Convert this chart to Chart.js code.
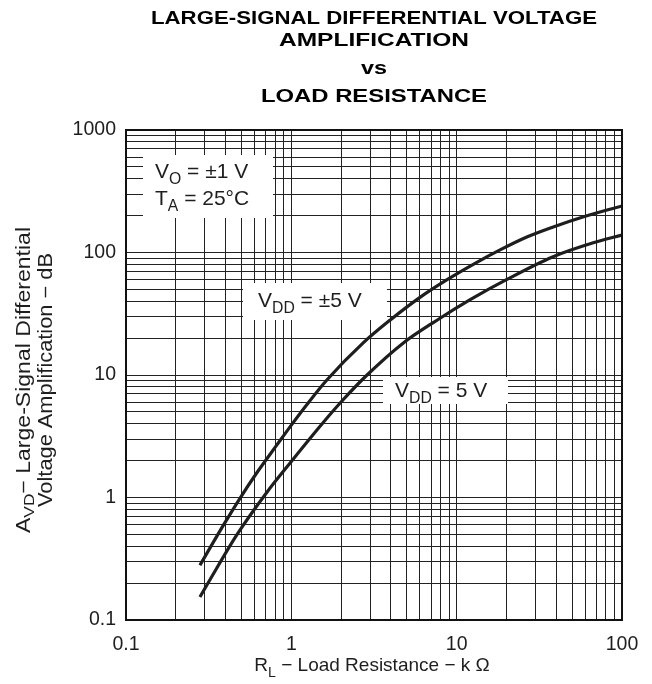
<!DOCTYPE html>
<html><head><meta charset="utf-8">
<script src="https://cdn.jsdelivr.net/npm/chart.js@4"></script>
<style>html,body{margin:0;padding:0;background:#fff}#wrap{width:652px;height:684px;position:relative}</style>
</head><body><div id="wrap"><canvas id="c"></canvas></div>
<script>
// ---- data ----
const rlDual    = [0.28, 0.39, 0.49, 0.62, 0.82, 1.0, 1.25, 1.64, 2.71, 3.95, 6.0, 8.75, 13, 18.3, 27, 38, 58, 100];
const avdDual   = [0.28, 0.6, 0.99, 1.6, 2.7, 3.9, 5.8, 9.1, 18.2, 28, 43, 60, 82, 105, 135, 161, 195, 240];
const rlSingle  = [0.28, 0.32, 0.47, 0.71, 1.0, 1.55, 2.05, 2.87, 4.74, 7.6, 12, 20, 38, 67, 100];
const avdSingle = [0.154, 0.21, 0.5, 1.1, 1.97, 4.06, 6.25, 10.0, 18.2, 28, 41, 60, 92, 120, 139];
const xDecades = [0.1, 1, 10, 100];
const yDecades = [0.1, 1, 10, 100, 1000];
const xTickLabels = ['0.1', '1', '10', '100'];
const yTickLabels = ['0.1', '1', '10', '100', '1000'];
const minorSteps = [1, 2, 3, 4, 5, 6, 7, 8, 9];

const FONT = '"Liberation Sans", Arial, Helvetica, sans-serif';
const INK = '#1e1e1e';

function gridValues(decades) {
  const out = [];
  for (let i = 0; i < decades.length; i++) {
    const d = decades[i];
    if (i === decades.length - 1) { out.push(d); break; }
    minorSteps.forEach(m => out.push(m * d));
  }
  return out;
}
function labelFor(v, decades, labels) {
  for (let i = 0; i < decades.length; i++) {
    if (Math.abs(Math.log10(v) - Math.log10(decades[i])) < 1e-6) return labels[i];
  }
  return '';
}
function toPts(xs, ys) { return xs.map((x, i) => ({x: x, y: ys[i]})); }

// rich text: parts = [[text, isSub], ...]
function richWidth(ctx, parts, size) {
  let w = 0;
  parts.forEach(p => { ctx.font = (p[1] ? size * 0.75 : size) + 'px ' + FONT; w += ctx.measureText(p[0]).width; });
  return w;
}
function drawRich(ctx, parts, x, y, size, align, targetW, subDrop) {
  const w = richWidth(ctx, parts, size);
  const k = targetW ? targetW / w : 1;
  const drop = subDrop === undefined ? size * 0.3 : subDrop;
  ctx.save();
  ctx.translate(align === 'center' ? x - (w * k) / 2 : x, y);
  ctx.scale(k, 1);
  ctx.textBaseline = 'alphabetic';
  ctx.textAlign = 'left';
  let cx = 0;
  parts.forEach(p => {
    ctx.font = (p[1] ? size * 0.75 : size) + 'px ' + FONT;
    ctx.fillText(p[0], cx, p[1] ? drop : 0);
    cx += ctx.measureText(p[0]).width;
  });
  ctx.restore();
}
function drawWide(ctx, text, cx, cy, font, targetW) {
  ctx.font = font;
  const w = ctx.measureText(text).width;
  const k = targetW ? targetW / w : 1;
  ctx.save();
  ctx.translate(cx, cy);
  ctx.scale(k, 1);
  ctx.textAlign = 'center';
  ctx.textBaseline = 'middle';
  ctx.fillText(text, 0, 0);
  ctx.restore();
}

const annotations = {
  id: 'annotations',
  beforeDatasetsDraw(chart) {
    const ctx = chart.ctx;
    ctx.save();
    ctx.fillStyle = '#fff';
    ctx.fillRect(143, 155, 130, 63);
    ctx.fillRect(243, 283, 144, 37);
    ctx.fillRect(383, 377, 125, 27);
    ctx.fillStyle = INK;
    drawRich(ctx, [['V', false], ['O', true], [' = \u00b11 V', false]], 155, 178, 21, 'left');
    drawRich(ctx, [['T', false], ['A', true], [' = 25\u00b0C', false]], 155, 205, 21, 'left');
    drawRich(ctx, [['V', false], ['DD', true], [' = \u00b15 V', false]], 258, 307, 21, 'left');
    drawRich(ctx, [['V', false], ['DD', true], [' = 5 V', false]], 395, 397, 21, 'left');
    ctx.restore();
  },
  afterDraw(chart) {
    const ctx = chart.ctx;
    const a = chart.chartArea;
    ctx.save();
    ctx.strokeStyle = '#111';
    ctx.lineWidth = 2;
    ctx.strokeRect(a.left, a.top, a.right - a.left, a.bottom - a.top);
    // title
    ctx.fillStyle = '#000';
    const cx = (a.left + a.right) / 2;
    const tf = 'bold 19px ' + FONT;
    drawWide(ctx, 'LARGE-SIGNAL DIFFERENTIAL VOLTAGE', cx, 19, tf, 446);
    drawWide(ctx, 'AMPLIFICATION', cx, 41, tf, 190);
    drawWide(ctx, 'vs', cx, 69, tf, 26);
    drawWide(ctx, 'LOAD RESISTANCE', cx, 97, tf, 226);
    // x title
    ctx.fillStyle = INK;
    drawRich(ctx, [['R', false], ['L', true], [' \u2212 Load Resistance \u2212 k \u03a9', false]], cx - 2, 671, 19, 'center');
    // y title
    ctx.translate(0, (a.top + a.bottom) / 2 + 5);
    ctx.rotate(-Math.PI / 2);
    drawRich(ctx, [['A', false], ['VD', true], ['\u2212 Large-Signal Differential', false]], 0, 30, 19.5, 'center', 306, 4);
    drawRich(ctx, [['Voltage Amplification \u2212 dB', false]], 0, 52, 19.5, 'center', 254);
    ctx.restore();
  }
};

new Chart(document.getElementById('c'), {
  type: 'scatter',
  data: {
    datasets: [
      { label: 'VDD = \u00b15 V', data: toPts(rlDual, avdDual), showLine: true, borderColor: INK, borderWidth: 3.2, pointRadius: 0, cubicInterpolationMode: 'monotone', fill: false },
      { label: 'VDD = 5 V', data: toPts(rlSingle, avdSingle), showLine: true, borderColor: INK, borderWidth: 3.2, pointRadius: 0, cubicInterpolationMode: 'monotone', fill: false }
    ]
  },
  options: {
    responsive: true,
    maintainAspectRatio: false,
    animation: false,
    devicePixelRatio: 1,
    layout: { padding: { top: 130, right: 30, left: 0, bottom: 0 } },
    plugins: { legend: { display: false }, tooltip: { enabled: false }, title: { display: false } },
    scales: {
      x: {
        type: 'logarithmic', min: 0.1, max: 100,
        afterBuildTicks: s => { s.ticks = gridValues(xDecades).map(v => ({ value: v })); },
        afterFit: s => { s.height = 64; },
        ticks: { autoSkip: false, maxRotation: 0, padding: 13, color: INK, font: { family: FONT, size: 19.5 },
                 callback: v => labelFor(v, xDecades, xTickLabels) },
        grid: { color: '#222', lineWidth: 1, drawTicks: false },
        border: { display: false }
      },
      y: {
        type: 'logarithmic', min: 0.1, max: 1000,
        afterBuildTicks: s => { s.ticks = gridValues(yDecades).map(v => ({ value: v })); },
        afterFit: s => { s.width = 126; },
        ticks: { autoSkip: false, padding: 10, color: INK, font: { family: FONT, size: 19.5 },
                 callback: v => labelFor(v, yDecades, yTickLabels) },
        grid: { color: '#222', lineWidth: 1, drawTicks: false },
        border: { display: false }
      }
    }
  },
  plugins: [annotations]
});
</script>
</body></html>
